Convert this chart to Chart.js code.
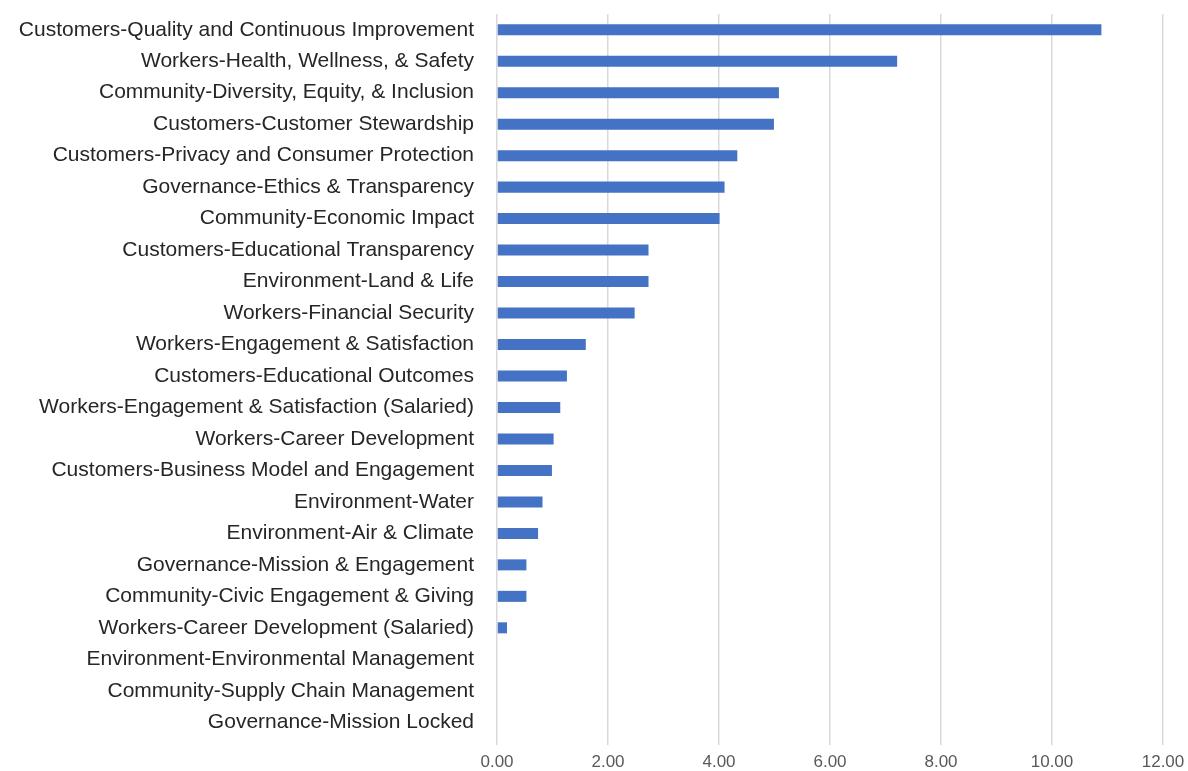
<!DOCTYPE html>
<html>
<head>
<meta charset="utf-8">
<script src="https://cdn.jsdelivr.net/npm/chart.js@4.4.1/dist/chart.umd.min.js"></script>
<style>
  html, body { margin: 0; padding: 0; background: #fff; }
  #wrap { width: 1188px; height: 771px; }
</style>
</head>
<body>
<div id="wrap"><canvas id="mainChart"></canvas></div>
<script>
const categories = [
    'Customers-Quality and Continuous Improvement',
    'Workers-Health, Wellness, & Safety',
    'Community-Diversity, Equity, & Inclusion',
    'Customers-Customer Stewardship',
    'Customers-Privacy and Consumer Protection',
    'Governance-Ethics & Transparency',
    'Community-Economic Impact',
    'Customers-Educational Transparency',
    'Environment-Land & Life',
    'Workers-Financial Security',
    'Workers-Engagement & Satisfaction',
    'Customers-Educational Outcomes',
    'Workers-Engagement & Satisfaction (Salaried)',
    'Workers-Career Development',
    'Customers-Business Model and Engagement',
    'Environment-Water',
    'Environment-Air & Climate',
    'Governance-Mission & Engagement',
    'Community-Civic Engagement & Giving',
    'Workers-Career Development (Salaried)',
    'Environment-Environmental Management',
    'Community-Supply Chain Management',
    'Governance-Mission Locked'
];

const scores = [
    10.89, 7.21, 5.08, 4.99, 4.33, 4.10, 4.01, 2.73, 2.73, 2.48,
    1.60, 1.26, 1.14, 1.02, 0.99, 0.82, 0.74, 0.53, 0.53, 0.18,
    0, 0, 0
];

const xTicks = [0, 2, 4, 6, 8, 10, 12];

function initCharts() {
    const ctx = document.getElementById('mainChart');
    if (!ctx) return;

    new Chart(ctx, {
        type: 'bar',
        data: {
            labels: categories,
            datasets: [{
                label: 'Score',
                data: scores,
                backgroundColor: '#4472C4',
                borderWidth: 0,
                categoryPercentage: 0.7,
                barPercentage: 0.5
            }]
        },
        options: {
            indexAxis: 'y',
            responsive: true,
            maintainAspectRatio: false,
            animation: false,
            layout: {
                padding: { top: 14, right: 25, bottom: 0, left: 0 }
            },
            plugins: {
                legend: { display: false },
                tooltip: { enabled: false }
            },
            scales: {
                x: {
                    min: xTicks[0],
                    max: xTicks[xTicks.length - 1],
                    afterBuildTicks: (axis) => {
                        axis.ticks = xTicks.map(v => ({ value: v }));
                    },
                    afterFit: (axis) => {
                        axis.height = 33;
                        axis.paddingLeft = 0;
                        axis.paddingRight = 0;
                    },
                    grid: {
                        color: '#d9d9d9',
                        lineWidth: 1.5,
                        drawTicks: true,
                        tickLength: 7,
                        tickColor: '#d9d9d9'
                    },
                    border: { display: false },
                    ticks: {
                        color: '#595959',
                        padding: 7,
                        font: { family: 'Liberation Sans Narrow, Liberation Sans', size: 17 },
                        callback: (v) => Number(v).toFixed(2)
                    }
                },
                y: {
                    grid: { display: false, drawTicks: false },
                    border: { display: false },
                    afterFit: (axis) => {
                        axis.width = 497;
                        axis.paddingTop = 0;
                        axis.paddingBottom = 0;
                    },
                    ticks: {
                        color: '#262626',
                        padding: 23,
                        autoSkip: false,
                        font: { family: 'Liberation Sans', size: 21 }
                    }
                }
            }
        }
    });
}

initCharts();
</script>
</body>
</html>
